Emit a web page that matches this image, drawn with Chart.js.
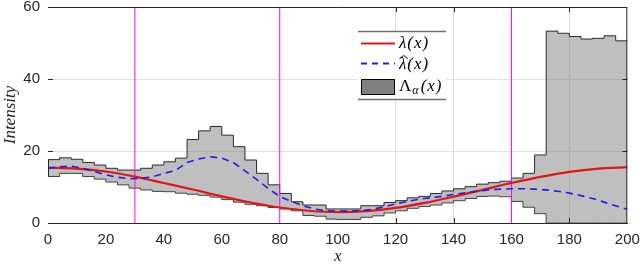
<!DOCTYPE html>
<html><head><meta charset="utf-8">
<script src="https://cdn.jsdelivr.net/npm/chart.js@4.4.1/dist/chart.umd.min.js"></script>
<style>html,body{margin:0;padding:0;background:#fff}canvas{display:block}</style>
</head><body>
<canvas id="c" width="640" height="268"></canvas>
<script>
// ---- data ----
const binEdges = [0,4,8,12,16,20,24,28,32,36,40,44,48,52,56,60,64,68,72,76,80,84,88,92,96,100,104,108,112,116,120,124,128,132,136,140,144,148,152,156,160,164,168,172,176,180,184,188,192,196,200];
const bandUpper = [17.6,18.1,17.7,16.8,16.1,15.2,14.7,14.7,15.2,16.1, 17.0,18.0,23.2,25.6,26.8,24.4,21.2,17.5,13.8,10.6, 8.2,5.9,5.0,5.0,3.9,3.9,3.9,4.8,4.8,5.7, 6.2,7.0,7.4,8.2,8.9,9.5,10.1,10.8,11.2,11.6, 12.5,13.8,18.9,53.3,52.7,51.8,51.1,51.3,52.0,50.6];
const bandLower = [12.9,13.8,13.8,12.9,12.2,11.4,10.6,9.7,9.2,8.8, 8.7,8.3,8.0,7.7,7.2,6.5,5.8,5.2,4.8,4.3, 3.9,3.4,2.1,1.9,1.1,1.0,1.0,1.6,2.0,2.8, 3.4,4.1,4.6,5.0,5.6,6.2,6.8,7.4,7.5,7.3, 6.0,4.4,2.6,0.0,0.0,0.0,0.0,0.0,0.0,0.0];
const lambdaX = [0,10,20,30,40,50,60,70,80,90,100,110,120,130,140,150,160,170,180,190,200];
const lambdaY = [15.4,15.1,14.3,12.9,11.1,9.3,7.4,5.7,4.3,3.4,3.0,3.3,4.2,5.6,7.3,9.2,11.1,12.8,14.2,15.1,15.5];
const lambdaHatX = [0,4,8,12,16,20,24,28,32,36,40,44,48,52,56,60,64,68,72,76,80,84,88,92,96,100,104,108,112,116,120,124,128,132,136,140,144,148,152,156,160,164,168,172,176,180,184,188,192,196,200];
const lambdaHatY = [15.2,15.6,15.8,15.2,14.3,13.4,12.7,12.3,12.4,12.8, 13.8,14.6,16.8,17.8,18.4,18.0,16.8,14.5,12.1,9.6, 7.4,6.0,4.8,3.9,3.4,3.3,3.3,3.4,3.8,4.5, 5.3,6.0,6.6,7.0,7.4,7.9,8.4,8.8,9.2,9.4, 9.5,9.5,9.4,9.2,8.8,8.3,7.6,6.8,5.8,4.8, 3.8];
const markerX = [30, 80, 160];
const xTickStep = 20;
const yTickStep = 20;
const xGridShown = [120, 140, 180];
const yGridShown = [20, 40];
const legendLabels = ['λ(x)', 'λ', '(x)', 'Λ', 'α', '(x)'];

const pts = (xs, ys) => ys.map((v, i) => ({x: xs[i], y: v}));
const stairs = vals => { const p = vals.map((v, i) => ({x: binEdges[i], y: v})); p.push({x: binEdges[vals.length], y: vals[vals.length - 1]}); return p; };

const TXT = '#262626';
const serif = '"Liberation Serif", "DejaVu Serif", serif';
const sans = '"Liberation Sans", Arial, sans-serif';
const RED = 'rgb(225,22,22)';
const BLUE = 'rgb(30,30,235)';

const markerSets = markerX.map(m => ({
  data: [{x: m, y: 0}, {x: m, y: 60}], borderColor: '#ff00ff', borderWidth: 1,
  pointRadius: 0, fill: false
}));

const framePlugin = {
  id: 'frame',
  afterDatasetsDraw(chart) {
    const {ctx, chartArea: a, scales: {x, y}} = chart;
    ctx.save();
    ctx.strokeStyle = TXT; ctx.lineWidth = 1;
    ctx.beginPath();
    ctx.moveTo(a.left, a.top + 0.5); ctx.lineTo(a.right, a.top + 0.5);
    ctx.moveTo(a.right - 0.5, a.top); ctx.lineTo(a.right - 0.5, a.bottom);
    yGridShown.forEach(v => {
      const py = Math.round(y.getPixelForValue(v)) + 0.5;
      ctx.moveTo(a.left, py); ctx.lineTo(a.left + 5, py);
      ctx.moveTo(a.right - 5, py); ctx.lineTo(a.right, py);
    });
    xGridShown.forEach(v => {
      const px = Math.round(x.getPixelForValue(v)) + 0.5;
      ctx.moveTo(px, a.bottom); ctx.lineTo(px, a.bottom - 5);
      ctx.moveTo(px, a.top); ctx.lineTo(px, a.top + 5);
    });
    // left end of the band outline
    const x0 = Math.round(x.getPixelForValue(binEdges[0])) + 0.5;
    ctx.moveTo(x0, y.getPixelForValue(bandUpper[0])); ctx.lineTo(x0, y.getPixelForValue(bandLower[0]));
    ctx.stroke();
    ctx.restore();
  },
  afterDraw(chart) {
    const {ctx} = chart;
    const L = 358, R = 446, T = 31, B = 100;
    ctx.save();
    ctx.fillStyle = '#fff'; ctx.fillRect(L, T, R - L, B - T);
    ctx.strokeStyle = '#707070'; ctx.lineWidth = 1.6;
    ctx.beginPath(); ctx.moveTo(L, T + 0.5); ctx.lineTo(R, T + 0.5);
    ctx.moveTo(L, B - 0.5); ctx.lineTo(R, B - 0.5); ctx.stroke();
    // samples
    ctx.lineWidth = 2; ctx.strokeStyle = RED;
    ctx.beginPath(); ctx.moveTo(361, 43.5); ctx.lineTo(395, 43.5); ctx.stroke();
    ctx.strokeStyle = BLUE; ctx.setLineDash([6, 5]);
    ctx.beginPath(); ctx.moveTo(361, 63.5); ctx.lineTo(395, 63.5); ctx.stroke();
    ctx.setLineDash([]);
    ctx.fillStyle = '#808080'; ctx.fillRect(361, 79, 34, 16);
    ctx.strokeStyle = '#000'; ctx.lineWidth = 1; ctx.strokeRect(361.5, 79.5, 33, 15);
    // texts
    ctx.fillStyle = '#000'; ctx.textBaseline = 'alphabetic'; ctx.textAlign = 'left';
    if ('letterSpacing' in ctx) ctx.letterSpacing = '1px';
    const tx = 399;
    ctx.font = 'italic 17px ' + serif;
    ctx.fillText(legendLabels[0], tx, 48);
    // lambda hat
    ctx.fillText(legendLabels[1], tx, 69);
    let w = ctx.measureText(legendLabels[1]).width;
    ctx.fillText(legendLabels[2], tx + w, 69);
    ctx.strokeStyle = '#000'; ctx.lineWidth = 0.9;
    ctx.beginPath(); ctx.moveTo(tx + 0.5, 58.5); ctx.lineTo(tx + w / 2 + 0.5, 55.5); ctx.lineTo(tx + w + 0.5, 58.5); ctx.stroke();
    // Lambda_alpha
    ctx.font = '17px ' + serif;
    ctx.fillText(legendLabels[3], tx, 91);
    w = ctx.measureText(legendLabels[3]).width;
    ctx.font = 'italic 12px ' + serif;
    ctx.fillText(legendLabels[4], tx + w, 94);
    w += ctx.measureText(legendLabels[4]).width + 1;
    ctx.font = 'italic 17px ' + serif;
    ctx.fillText(legendLabels[5], tx + w, 91);
    ctx.restore();
  }
};

new Chart(document.getElementById('c'), {
  type: 'line',
  data: {
    datasets: [
      {data: pts(lambdaHatX, lambdaHatY), borderColor: BLUE, borderWidth: 1.6, borderDash: [7, 5], pointRadius: 0, fill: false},
      {data: pts(lambdaX, lambdaY), borderColor: RED, borderWidth: 2.2, pointRadius: 0, fill: false, cubicInterpolationMode: 'monotone'},
      ...markerSets,
      {data: stairs(bandUpper), stepped: 'before', borderColor: '#2a2a2a', borderWidth: 1, pointRadius: 0, fill: '+1', backgroundColor: 'rgba(128,128,128,0.5)'},
      {data: stairs(bandLower), stepped: 'before', borderColor: '#2a2a2a', borderWidth: 1, pointRadius: 0, fill: false}
    ]
  },
  options: {
    responsive: false, animation: false, events: [], devicePixelRatio: 1,
    layout: {padding: {top: 7, right: 12.7, left: 0, bottom: 0}},
    plugins: {legend: {display: false}, tooltip: {enabled: false}},
    scales: {
      x: {
        type: 'linear', min: 0, max: 200,
        ticks: {stepSize: xTickStep, color: TXT, font: {family: sans, size: 15}, padding: 8, maxRotation: 0, autoSkip: false},
        grid: {drawTicks: false, color: c => xGridShown.includes(c.tick.value) ? '#dcdcdc' : 'rgba(0,0,0,0)'},
        border: {display: true, color: TXT, width: 1},
        title: {display: true, text: 'x', color: TXT, font: {family: serif, size: 17, style: 'italic'}, padding: {top: 0, bottom: 1}},
        afterFit: s => { s.height = 45; s.paddingLeft = 0; s.paddingRight = 0; }
      },
      y: {
        min: 0, max: 60,
        ticks: {stepSize: yTickStep, color: TXT, font: {family: sans, size: 15}, padding: 8},
        grid: {drawTicks: false, color: c => yGridShown.includes(c.tick.value) ? '#e0e0e0' : 'rgba(0,0,0,0)'},
        border: {display: false},
        title: {display: true, text: 'Intensity', color: TXT, font: {family: serif, size: 17, style: 'italic'}, padding: {top: 0, bottom: 0}},
        afterFit: s => { s.width = 48; s.paddingTop = 0; s.paddingBottom = 0; }
      }
    }
  },
  plugins: [framePlugin]
});
</script>
</body></html>
